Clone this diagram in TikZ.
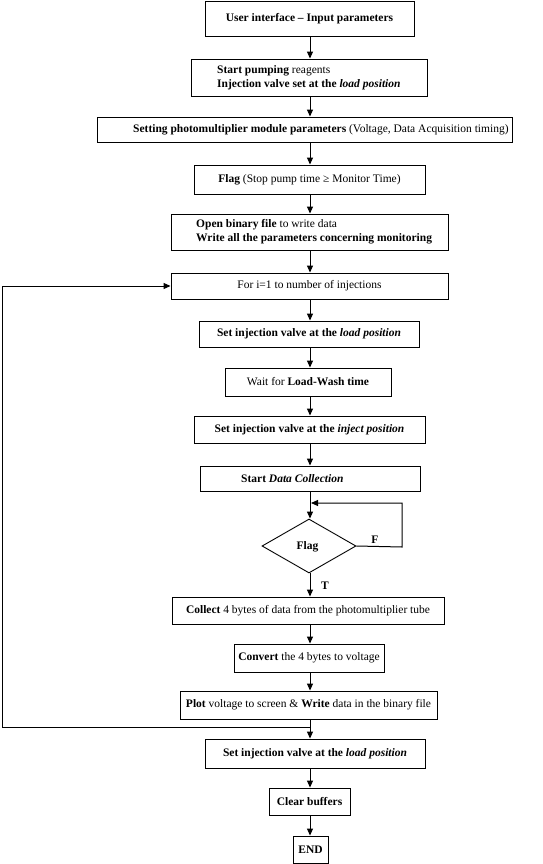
\documentclass[tikz,border=0pt]{standalone}
\usepackage{fontspec}
\setmainfont{Liberation Serif}
\usetikzlibrary{arrows.meta,shapes.geometric}
\begin{document}
\begin{tikzpicture}[x=1pt,y=-1pt,
  box/.style={draw,line width=0.9pt,inner sep=0pt,minimum width=#1},
  txt/.style={inner sep=0pt,anchor=west,align=left,font=\fontsize{11.5}{13.6}\selectfont},
  arr/.style={line width=1pt,-{Triangle[length=7pt,width=6pt]}},
  lbl/.style={inner sep=0pt,font=\fontsize{11.5}{13.6}\selectfont\bfseries},
  every node/.append style={font=\fontsize{11.5}{13.6}\selectfont}]
\useasboundingbox (0,0) rectangle (543,864);
\coordinate (spine) at (310,0);
\node[box=209pt,minimum height=35pt] (b1) at (309.5,18.5) {\textbf{User interface -- Input parameters}};
\node[box=236pt,minimum height=37pt] (b2) at (309,77.5) {};
\node[txt] (t2) at (217,77.5) {\textbf{Start pumping} reagents\\\textbf{Injection valve set at the \textit{load position}}};
\node[box=415pt,minimum height=25pt] (b3) at (304.5,129.5) {};
\node[txt] (t3) at (133,129.5) {\textbf{Setting photomultiplier module parameters} (Voltage, Data Acquisition timing)};
\node[box=231pt,minimum height=29pt] (b4) at (309.5,179.5) {\textbf{Flag} (Stop pump time ≥ Monitor Time)};
\node[box=277pt,minimum height=36pt] (b5) at (309.5,232) {};
\node[txt] (t5) at (196,231.5) {\textbf{Open binary file} to write data\\\textbf{Write all the parameters concerning monitoring}};
\node[box=277pt,minimum height=26pt] (b6) at (309.5,286) {For i=1 to number of injections};
\node[box=220pt,minimum height=26pt] (b7) at (309,334) {\textbf{Set injection valve at the \textit{load position}}};
\node[box=166pt,minimum height=28pt] (b8) at (308,382) {Wait for \textbf{Load-Wash time}};
\node[box=231pt,minimum height=27pt] (b9) at (309.5,429.5) {\textbf{Set injection valve at the \textit{inject position}}};
\node[box=220pt,minimum height=25pt] (b10) at (310,478.5) {};
\node[txt] (t10) at (241,478.5) {\textbf{Start \textit{Data Collection}}};
\node[draw,line width=0.9pt,diamond,inner sep=0pt,minimum width=94pt,minimum height=54pt] (dia) at (309,546) {};
\node[lbl] (tf) at (307.5,547) {Flag};
\node[box=272pt,minimum height=27pt] (b11) at (308,610.5) {\textbf{Collect} 4 bytes of data from the photomultiplier tube};
\node[box=150pt,minimum height=28pt] (b12) at (309,658) {\textbf{Convert} the 4 bytes to voltage};
\node[box=257pt,minimum height=28pt] (b13) at (308.5,705) {\textbf{Plot} voltage to screen \& \textbf{Write} data in the binary file};
\node[box=220pt,minimum height=29pt] (b14) at (315,753.5) {\textbf{Set injection valve at the \textit{load position}}};
\node[box=81pt,minimum height=27pt] (b15) at (309.5,801.5) {\textbf{Clear buffers}};
\node[box=35pt,minimum height=27pt] (b16) at (310.5,849.5) {\textbf{END}};
\node[lbl] (lF) at (375,540) {F};
\node[lbl] (lT) at (325,586) {T};
\coordinate (fr) at (402,547);
\coordinate (fu) at (402,503);
\coordinate (fin) at (311,503);
\coordinate (lj) at (310,727);
\coordinate (ll) at (2,727);
\coordinate (lu) at (2,286);
% straight arrows
\foreach \a/\b in {b1/b2,b2/b3,b3/b4,b4/b5,b5/b6,b6/b7,b7/b8,b8/b9,b9/b10,b11/b12,b12/b13,b13/b14,b14/b15,b15/b16}
  \draw[arr] (\a.south -| spine) -- (\b.north -| spine);
\draw[arr] (b10.south -| spine) -- (dia.north -| spine);
\draw[arr] (dia.south -| spine) -- (b11.north -| spine);
\draw[arr] (dia.east) -- (fr) -- (fu) -- (fin);
\draw[arr] (lj) -- (ll) -- (lu) -- (b6.west);
\end{tikzpicture}
\end{document}
